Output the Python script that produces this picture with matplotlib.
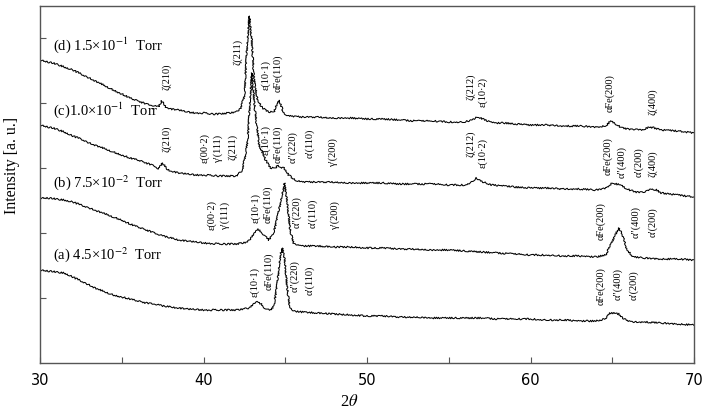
import numpy as np
import matplotlib
matplotlib.use('Agg')
import matplotlib.pyplot as plt

plt.rcParams['mathtext.fontset'] = 'stix'
serif = ['Liberation Serif', 'DejaVu Serif']

# XRD patterns, 2theta (deg) / intensity (a.u.)
tt_d = [30.0, 30.5, 31, 31.5, 32, 32.5, 33, 33.5, 34, 34.5, 35, 35.5, 36, 36.5, 37, 37.25, 37.45, 37.7, 38, 38.5,
        39, 39.5, 40, 40.5, 41, 41.5, 42, 42.3, 42.5, 42.65, 42.8, 42.95, 43.1, 43.3, 43.6, 44, 44.3, 44.5, 44.6, 44.75,
        44.9, 45.2, 46, 47, 48, 49, 50, 51, 52, 53, 54, 55, 56, 56.5, 56.8, 57.2, 57.8, 58.5, 59, 60,
        61, 62, 63, 64, 64.6, 64.9, 65.2, 65.6, 66, 66.8, 67.3, 67.6, 68, 69, 70]
int_d = [303, 301, 299, 296, 293, 289, 285, 281, 277, 273, 269, 265, 262, 259, 257, 256, 262, 256, 254, 253,
         251, 250, 250, 249, 249, 250, 251, 255, 268, 313, 347, 323, 283, 263, 255, 251, 251, 259, 263, 257,
         250, 247, 246, 246, 245, 245, 244, 244, 243, 242, 242, 241, 241, 244, 246, 243, 240, 240, 239, 238,
         238, 237, 237, 236, 237, 242, 239, 235, 234, 233, 236, 235, 233, 232, 230]

tt_c = [30, 30.5, 31, 31.5, 32, 32.5, 33, 33.5, 34, 34.5, 35, 35.5, 36, 36.5, 37, 37.25, 37.5, 37.75, 38, 38.5,
        39, 39.5, 40, 41, 42, 42.4, 42.7, 42.95, 43.15, 43.4, 43.8, 44.1, 44.4, 44.55, 44.7, 44.9, 45.2, 45.6,
        46, 47, 48, 49, 50, 51, 52, 53, 54, 55, 56, 56.4, 56.7, 57.1, 57.6, 58.5, 59, 60, 61, 62, 63, 64,
        64.6, 65.0, 65.5, 65.9, 66.4, 67, 67.4, 67.7, 68, 69, 70]
int_c = [238, 236, 234, 231, 227, 224, 220, 217, 214, 211, 208, 205, 203, 200, 197, 194, 200, 194, 192, 190,
         189, 188, 188, 187, 187, 193, 223, 290, 253, 218, 203, 195, 195, 198, 195, 196, 188, 183,
         181, 181, 181, 180, 180, 180, 179, 179, 179, 178, 178, 181, 185, 181, 178, 177, 176, 175, 175, 174, 174, 173,
         175, 180, 178, 174, 171, 171, 174, 173, 170, 168, 166]

tt_b = [30, 30.5, 31, 31.5, 32, 32.5, 33, 33.5, 34, 34.5, 35, 35.5, 36, 36.5, 37, 37.5, 38, 38.5, 39, 40,
        41, 42, 42.7, 43.1, 43.35, 43.6, 44.0, 44.3, 44.55, 44.8, 44.95, 45.1, 45.3, 45.5, 46, 47, 48, 49, 50, 51,
        52, 53, 54, 55, 56, 57, 58, 59, 60, 61, 62, 63, 64, 64.6, 64.9, 65.15, 65.4, 65.65, 65.9, 66.3,
        67, 68, 69, 70]
int_b = [165, 165, 164, 163, 161, 158, 155, 152, 149, 146, 143, 139, 136, 133, 130, 127, 125, 123, 122, 120,
         119, 119, 121, 129, 134, 130, 123, 131, 148, 168, 180, 163, 133, 120, 117, 117, 116, 116, 115, 115,
         114, 114, 113, 113, 112, 111, 110, 109, 108, 108, 107, 107, 106, 108, 118, 127, 135, 127, 113, 106,
         105, 104, 104, 103]

tt_a = [30, 30.5, 31, 31.5, 32, 32.5, 33, 33.5, 34, 34.5, 35, 35.5, 36, 36.5, 37, 37.5, 38, 38.5, 39, 40,
        41, 42, 42.8, 43.1, 43.3, 43.55, 43.8, 44.1, 44.3, 44.5, 44.7, 44.82, 44.95, 45.1, 45.25, 45.45, 46, 47, 48, 49,
        50, 51, 52, 53, 54, 55, 56, 57, 58, 59, 60, 61, 62, 63, 64, 64.6, 64.85, 65.1, 65.4, 65.7,
        66.2, 67, 68, 69, 70]
int_a = [93, 92, 91, 90, 86, 82, 78, 74, 71, 68, 66, 64, 62, 60, 59, 57, 56, 55, 54, 53,
         53, 53, 55, 59, 61, 59, 54, 53, 57, 78, 108, 115, 105, 78, 58, 52, 51, 50, 49, 48,
         47, 47, 46, 46, 45, 45, 45, 45, 44, 44, 44, 43, 43, 42, 42, 44, 50, 50, 49, 44,
         41, 41, 40, 39, 38]

# sample labels
samples = [r'(d) 1.5×10$^{-1}$  Torr', r'(c)1.0×10$^{-1}$  Torr',
           r'(b) 7.5×10$^{-2}$  Torr', r'(a) 4.5×10$^{-2}$  Torr']
sample_y = [318, 253, 180, 108]

# peak assignments : text, 2theta, height of label foot
peak_txt = ['ζ(210)', 'ζ(211)', 'ε(10·1)', 'αFe(110)', 'ζ(212)', 'ε(10·2)', 'αFe(200)', 'ζ(400)',
            'ζ(210)', 'ε(00·2)', 'γ′(111)', 'ζ(211)', 'ε(10·1)', 'αFe(110)', 'α″(220)', 'α′(110)', 'γ′(200)',
            'ζ(212)', 'ε(10·2)', 'αFe(200)', 'α″(400)', 'α′(200)', 'ζ(400)',
            'ε(00·2)', 'γ′(111)', 'ε(10·1)', 'αFe(110)', 'α″(220)', 'α′(110)', 'γ′(200)',
            'αFe(200)', 'α″(400)', 'α′(200)',
            'ε(10·1)', 'αFe(110)', 'α″(220)', 'α′(110)', 'αFe(200)', 'α″(400)', 'α′(200)']
peak_x = [37.77, 42.11, 43.82, 44.56, 56.36, 57.09, 64.86, 67.49,
          37.77, 40.09, 40.89, 41.80, 43.82, 44.56, 45.47, 46.51, 47.92,
          56.36, 57.09, 64.74, 65.60, 66.64, 67.49,
          40.52, 41.31, 43.21, 43.94, 45.72, 46.70, 48.04,
          64.29, 66.44, 67.48,
          43.15, 44.01, 45.60, 46.51, 64.29, 65.33, 66.31]
peak_y = [273, 298, 273, 271, 263, 256, 251, 248,
          211, 200, 200, 203, 208, 200, 200, 205, 196,
          206, 195, 188, 185, 186, 186,
          133, 133, 140, 140, 135, 135, 133,
          123, 125, 126,
          66, 73, 71, 68, 58, 63, 63]

fig = plt.figure(figsize=(7.04, 4.09), dpi=100)
ax = fig.add_axes([40/704, 46/409, 654/704, 357/409])

for tt, it in [(tt_d, int_d), (tt_c, int_c), (tt_b, int_b), (tt_a, int_a)]:
    ln, = ax.plot(tt, it, color='black', lw=0.75)
    ln.set_sketch_params(scale=0.8, length=1.5, randomness=3)  # noisy look of the raw scan

for s, y in zip(samples, sample_y):
    ax.text(30.8, y, s, fontsize=10.5, family=serif, ha='left', va='center')

for s, x, y in zip(peak_txt, peak_x, peak_y):
    ax.text(x, y, s, fontsize=7.5, family=serif, rotation=90, ha='center', va='bottom')

ax.set_xlim(30, 70)
ax.set_ylim(0, 357)
ax.set_xticks([30, 40, 50, 60, 70])
ax.set_xticks([35, 45, 55, 65], minor=True)
ax.set_yticks([65, 130, 195, 260, 325])
ax.set_yticklabels([])
ax.tick_params(which='both', direction='in', length=4, color='#555555', width=0.8)
ax.tick_params(axis='x', labelsize=10.5, pad=7)
for sp in ax.spines.values():
    sp.set_color('#555555')
    sp.set_linewidth(1.0)

fig.text(12/704, 1 - 165/409, 'Intensity [a. u.]', rotation=90, fontsize=11.5, family=serif,
         ha='center', va='center')
fig.text(349/704, 1 - 402/409, r'2$\theta$', fontsize=12, family=serif, ha='center', va='center')

fig.savefig('out.png', dpi=100)
